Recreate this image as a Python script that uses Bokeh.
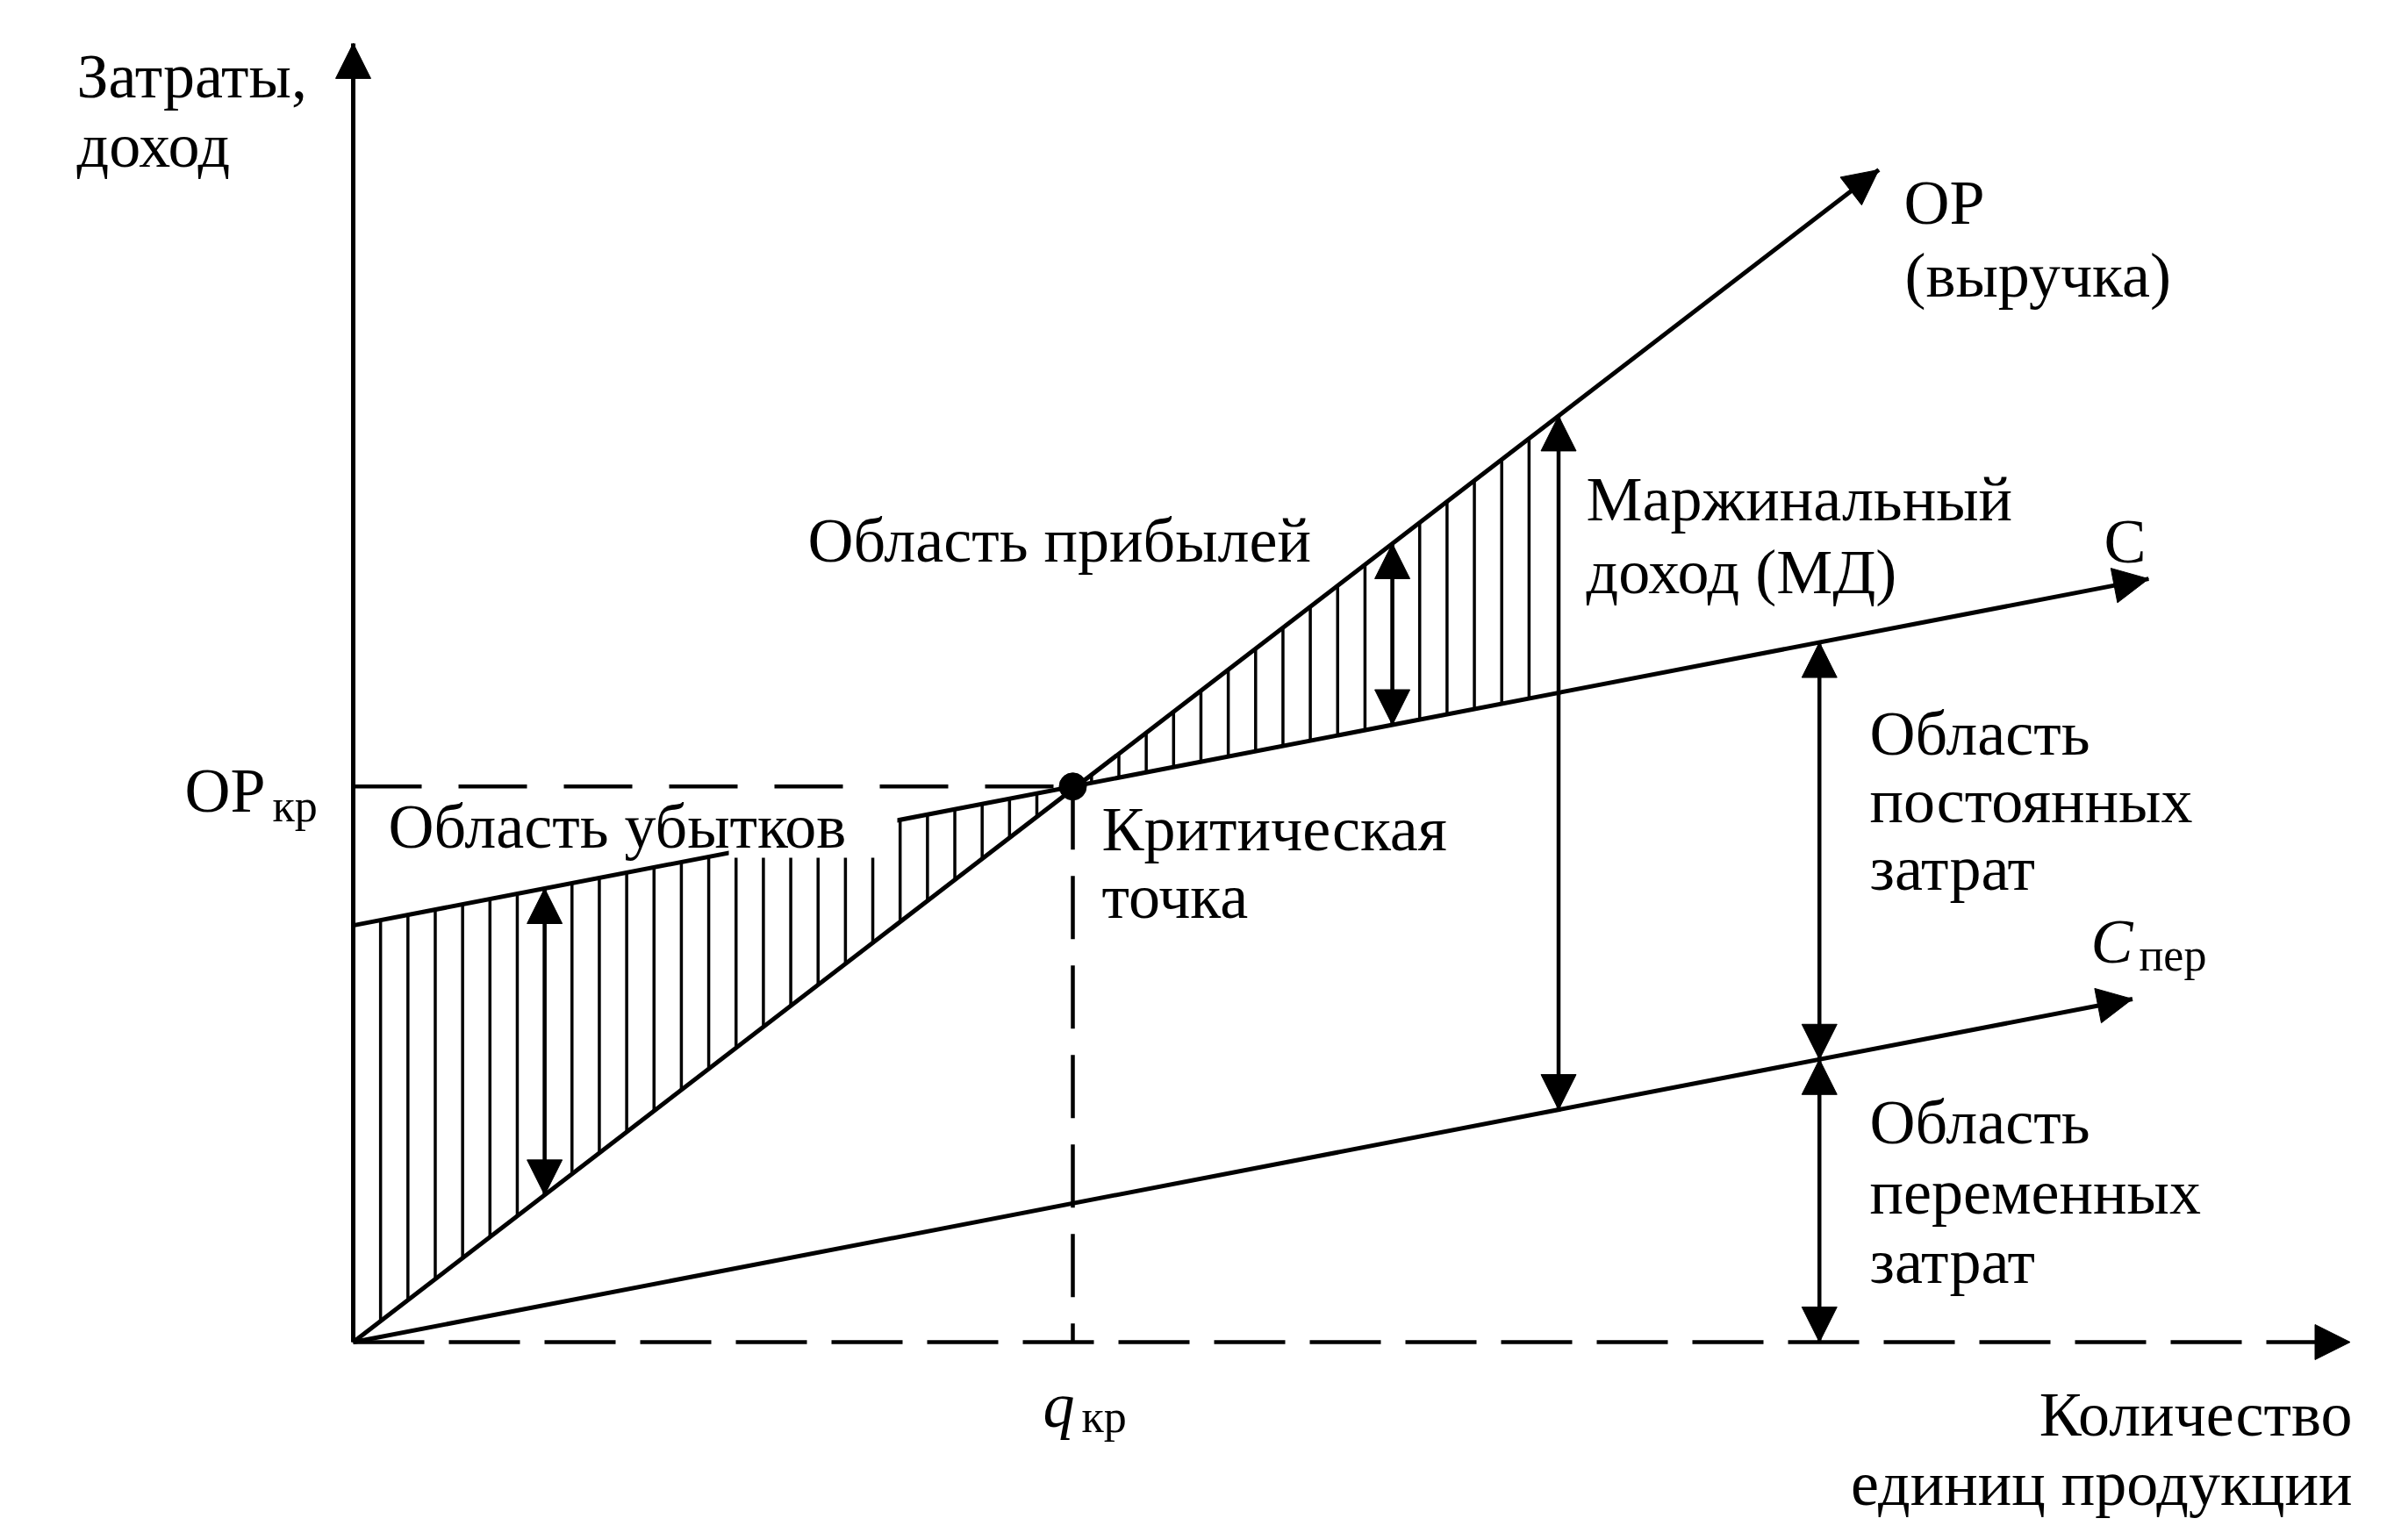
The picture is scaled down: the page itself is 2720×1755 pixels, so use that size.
import numpy as np
from bokeh.plotting import figure
from bokeh.models import Range1d, Arrow, NormalHead, Label
from bokeh.embed import file_html
from bokeh.resources import INLINE

# ---------------- data ----------------
fixed_costs = 30.0          # С at q = 0
q_critical = 40.0           # q кр
op_critical = 40.0          # ОР кр
revenue_q = [0.0, 84.8]     # ОР (выручка)
revenue = [0.0, 84.4]
total_cost_q = [0.0, 99.8]  # С
total_cost = [30.0, 54.95]
var_cost_q = [0.0, 98.9]    # С пер
var_cost = [0.0, 24.7]
x_axis_end = 111.0
y_axis_end = 93.5
hatch_step = 1.52
hatch_count = 44
loss_arrow_q = 10.64
profit_arrow_q = 57.76
md_arrow_q = 67.0
fixed_arrow_q = 81.5

# ---------------- page geometry ----------------
W, H = 2704, 1739
OX, OY = 410.0, 1537.0       # origin in page pixels
PXQ, PXV = 20.5, 15.83       # pixels per data unit
TEXT_SHIFT = -14             # baseline correction for labels


def X(px):
    return (px - OX) / PXQ


def Y(py):
    return (OY - py) / PXV


FONT = "Liberation Serif"
FS = "72px"
FS_SUB = "52px"
LW = 5

p = figure(width=W, height=H, output_backend="svg", toolbar_location=None,
           x_range=Range1d(X(8), X(8 + W)), y_range=Range1d(Y(8 + H), Y(8)),
           x_axis_type=None, y_axis_type=None, min_border=0,
           outline_line_color=None, background_fill_color="white",
           border_fill_color="white")
p.grid.visible = False


def op(q):
    return np.interp(q, revenue_q, revenue)


def cst(q):
    return np.interp(q, total_cost_q, total_cost)


def cvar(q):
    return np.interp(q, var_cost_q, var_cost)


# hatching between ОР and С
hq = np.array([i * hatch_step for i in range(hatch_count)])
h_lo = np.minimum(op(hq), cst(hq))
h_hi = np.maximum(op(hq), cst(hq))
p.segment(x0=hq, y0=h_lo, x1=hq, y1=h_hi, line_color="black", line_width=3.5)

# main lines (shafts)
p.segment(x0=[revenue_q[0], total_cost_q[0], var_cost_q[0], 0],
          y0=[revenue[0], total_cost[0], var_cost[0], 0],
          x1=[revenue_q[1], total_cost_q[1], var_cost_q[1], 0],
          y1=[revenue[1], total_cost[1], var_cost[1], y_axis_end],
          line_color="black", line_width=LW)

# dashed lines
p.segment(x0=[0], y0=[0], x1=[x_axis_end - 1.0], y1=[0],
          line_color="black", line_width=4.5, line_dash="81 28")
p.segment(x0=[0], y0=[op_critical], x1=[q_critical], y1=[op_critical],
          line_color="black", line_width=4.5, line_dash="78 42")
p.segment(x0=[q_critical], y0=[op_critical], x1=[q_critical], y1=[0],
          line_color="black", line_width=4.5, line_dash="72 30")

# white mask behind "Область убытков"
p.quad(left=[X(838)], right=[X(1030)], bottom=[Y(985)], top=[Y(915)],
       fill_color="white", line_color=None)

# double-arrow shafts
arr_q = [loss_arrow_q, profit_arrow_q, md_arrow_q, fixed_arrow_q, fixed_arrow_q]
arr_y0 = [float(cst(loss_arrow_q)), float(op(profit_arrow_q)), float(op(md_arrow_q)),
          float(cst(fixed_arrow_q)), float(cvar(fixed_arrow_q))]
arr_y1 = [float(op(loss_arrow_q)), float(cst(profit_arrow_q)), float(cvar(md_arrow_q)),
          float(cvar(fixed_arrow_q)), 0.0]
p.segment(x0=arr_q, y0=arr_y0, x1=arr_q, y1=arr_y1, line_color="black", line_width=4.5)

# critical point
p.scatter(x=[q_critical], y=[op_critical], size=31, color="black")

HEAD = 40


def head():
    return NormalHead(size=HEAD, fill_color="black", line_color="black", line_width=1)


def add_arrow(x0, y0, x1, y1, double=False):
    a = Arrow(x_start=x0, y_start=y0, x_end=x1, y_end=y1, end=head(),
              start=head() if double else None, line_alpha=0.0)
    p.add_layout(a)


# single arrows (heads)
add_arrow(0, 0, 0, y_axis_end)
add_arrow(0, 0, x_axis_end, 0)
add_arrow(revenue_q[0], revenue[0], revenue_q[1], revenue[1])
add_arrow(total_cost_q[0], total_cost[0], total_cost_q[1], total_cost[1])
add_arrow(var_cost_q[0], var_cost[0], var_cost_q[1], var_cost[1])
# double arrows
for q, a0, a1 in zip(arr_q, arr_y0, arr_y1):
    add_arrow(q, a0, q, a1, double=True)


def lab(text, px, py, size=FS, align="left", style="normal"):
    p.add_layout(Label(x=X(px), y=Y(py + TEXT_SHIFT), text=text, text_font=FONT,
                       text_font_size=size, text_align=align,
                       text_baseline="alphabetic", text_font_style=style,
                       text_color="black"))


lab("Затраты,", 95, 108)
lab("доход", 95, 187)
lab("ОР", 2177, 252)
lab("(выручка)", 2178, 335)
lab("Область прибылей", 928, 637)
lab("Маржинальный", 1815, 590)
lab("доход (МД)", 1815, 673)
lab("С", 2405, 638)
lab("Область", 2138, 857)
lab("постоянных", 2138, 934)
lab("затрат", 2138, 1011)
lab("С", 2390, 1094, style="italic")
lab("пер", 2445, 1110, size=FS_SUB)
lab("Область", 2138, 1300)
lab("переменных", 2138, 1380)
lab("затрат", 2138, 1459)
lab("Количество", 2688, 1633, align="right")
lab("единиц продукции", 2688, 1712, align="right")
lab("q", 1196, 1623, style="italic")
lab("кр", 1240, 1636, size=FS_SUB)
lab("ОР", 218, 922)
lab("кр", 318, 940, size=FS_SUB)
lab("Область убытков", 450, 963)
lab("Критическая", 1263, 966)
lab("точка", 1263, 1043)

open("out.html", "w").write(file_html(p, INLINE))
